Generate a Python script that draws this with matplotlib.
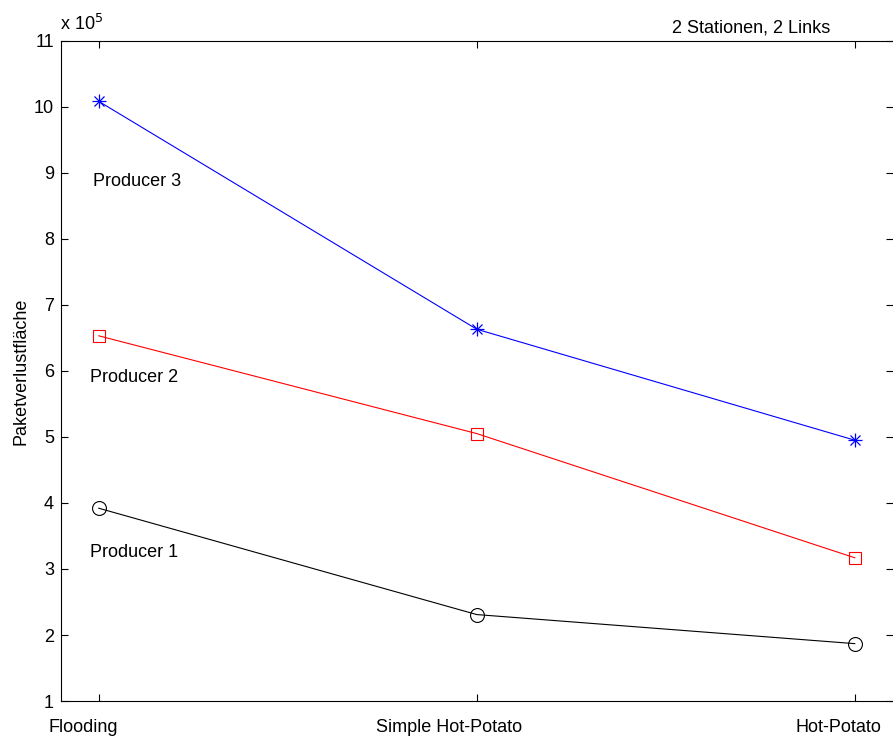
import matplotlib
matplotlib.use('Agg')
import matplotlib.pyplot as plt
from matplotlib.transforms import ScaledTranslation

plt.rcParams['font.family'] = ['Liberation Sans', 'DejaVu Sans']
plt.rcParams['font.size'] = 13

# Data (values in units of 1e5)
strategies = ['Flooding', 'Simple Hot-Potato', 'Hot-Potato']
producer1 = [3.92, 2.31, 1.87]
producer2 = [6.53, 5.05, 3.17]
producer3 = [10.08, 6.63, 4.95]
y_ticks = list(range(1, 12))

x = [1, 2, 3]

fig = plt.figure(figsize=(8.93, 7.38), dpi=100)
ax = fig.add_axes([0.0683, 0.05, 0.9312, 0.895])

# Producer 3: MATLAB-style asterisk (plus + x overlay)
ax.plot(x, producer3, color='blue', linewidth=0.8)
ax.plot(x, producer3, linestyle='none', marker='+', color='blue', markersize=10, markeredgewidth=0.9)
ax.plot(x, producer3, linestyle='none', marker='x', color='blue', markersize=7, markeredgewidth=0.9)

ax.plot(x, producer2, color='red', linewidth=0.8, marker='s', markersize=9,
        markerfacecolor='none', markeredgecolor='red', markeredgewidth=0.8)
ax.plot(x, producer1, color='black', linewidth=0.8, marker='o', markersize=10,
        markerfacecolor='none', markeredgecolor='black', markeredgewidth=0.8)

ax.set_xlim(0.9, 3.1)
ax.set_ylim(1, 11)
ax.set_xticks(x)
ax.set_xticklabels(strategies)
ax.set_yticks(y_ticks)

ax.tick_params(direction='in', length=5, width=0.8, top=True, right=True)
ax.tick_params(axis='x', pad=13)
ax.tick_params(axis='y', pad=5)
for sp in ax.spines.values():
    sp.set_linewidth(0.8)
# right edge of the box is cut off in the original screenshot
ax.spines['right'].set_visible(False)

# shift x tick labels like in the original export
shifts_px = [-16, -28, -16]
for lbl, dx in zip(ax.get_xticklabels(), shifts_px):
    lbl.set_transform(lbl.get_transform() + ScaledTranslation(dx / 100, 0, fig.dpi_scale_trans))

ax.set_ylabel('Paketverlustfläche', labelpad=3)

ax.text(0.985, 8.87, 'Producer 3', ha='left', va='center')
ax.text(0.978, 5.9, 'Producer 2', ha='left', va='center')
ax.text(0.978, 3.25, 'Producer 1', ha='left', va='center')

ax.text(0.83, 1.006, '2 Stationen, 2 Links', transform=ax.transAxes, ha='center', va='bottom')
ax.text(-0.001, 1.01, r'x 10$^5$', transform=ax.transAxes, ha='left', va='bottom')

fig.savefig('out.png', dpi=100)
